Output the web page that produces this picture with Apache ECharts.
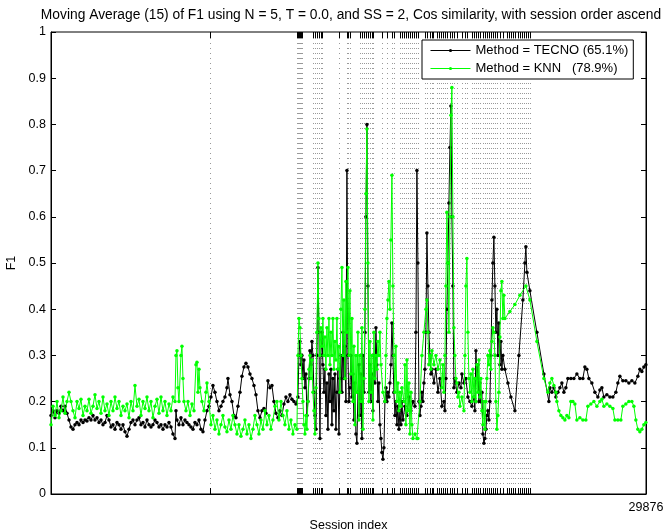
<!DOCTYPE html>
<html>
<head>
<meta charset="utf-8">
<script src="https://cdn.jsdelivr.net/npm/echarts@6/dist/echarts.min.js"></script>
<style>html,body{margin:0;padding:0;background:#fff}#c{width:663px;height:529px}</style>
</head>
<body>
<div id="c"></div>
<script>
const titleText = 'Moving Average (15) of F1 using N = 5, T = 0.0, and SS = 2, Cos similarity, with session order ascend';
const xMax = 29876;
const seriesNames = ['Method = TECNO (65.1%)', 'Method = KNN   (78.9%)'];

// session boundaries drawn as dotted grid lines
const gridSessions = [7982,12349,12399,12450,12500,12550,12600,13152,13253,13353,13454,13554,13604,14458,14859,14909,15010,
15512,15612,15713,15813,15913,16014,16114,16164,16616,16867,17118,17219,17520,17620,17721,17821,17921,18022,18122,18223,18323,18423,
18775,18875,19026,19126,19176,19377,19478,19578,19678,19779,19879,20030,20130,20231,20381,20632,20783,20883,21134,21235,21335,21435,
21536,21686,21787,21887,21988,22088,22188,22289,22389,22540,22690,22891,22992,23092,23192,23293,23443,23544,23644,23745,23845,23945,24046];

// [session index, F1] TECNO
const tecnoPoints = [[0,0.17],[100,0.18],[201,0.165],[301,0.18],[402,0.175],[502,0.19],[602,0.18],[703,0.19],[803,0.175],[904,0.16],
[1004,0.145],[1104,0.14],[1205,0.15],[1305,0.155],[1406,0.15],[1506,0.16],[1606,0.155],[1707,0.16],[1807,0.158],[1908,0.165],
[2008,0.16],[2108,0.17],[2209,0.16],[2309,0.165],[2410,0.155],[2510,0.16],[2610,0.15],[2711,0.155],[2811,0.17],[2912,0.16],
[3012,0.145],[3112,0.15],[3213,0.14],[3313,0.155],[3414,0.15],[3514,0.14],[3614,0.15],[3715,0.135],[3815,0.125],[3916,0.14],
[4016,0.155],[4116,0.16],[4217,0.15],[4317,0.16],[4418,0.165],[4518,0.15],[4618,0.155],[4719,0.145],[4819,0.16],[4920,0.15],
[5020,0.145],[5120,0.15],[5221,0.16],[5321,0.155],[5422,0.145],[5522,0.15],[5622,0.14],[5723,0.15],[5823,0.145],[5924,0.155],
[6024,0.145],[6124,0.13],[6225,0.12],[6275,0.18],[6325,0.16],[6426,0.15],[6526,0.165],[6626,0.15],[6727,0.16],[6827,0.155],
[6928,0.15],[7028,0.145],[7128,0.14],[7229,0.155],[7329,0.15],[7430,0.16],[7530,0.14],[7630,0.135],[7731,0.16],[7831,0.18],
[7932,0.19],[8032,0.21],[8132,0.235],[8233,0.22],[8333,0.2],[8434,0.18],[8534,0.19],[8634,0.2],[8735,0.21],[8835,0.23],
[8885,0.25],[8986,0.215],[9086,0.2],[9187,0.17],[9287,0.165],[9387,0.19],[9488,0.22],[9588,0.255],[9689,0.275],[9789,0.283],
[9889,0.275],[9990,0.26],[10090,0.25],[10191,0.235],[10291,0.215],[10391,0.18],[10492,0.165],[10592,0.18],[10693,0.185],[10793,0.175],
[10893,0.245],[10994,0.23],[11094,0.235],[11195,0.2],[11295,0.175],[11395,0.165],[11496,0.18],[11596,0.17],[11697,0.195],[11797,0.21],
[11897,0.2],[11998,0.215],[12098,0.205],[12199,0.2],[12299,0.195],
[12399,0.21],[12450,0.30],[12500,0.33],[12550,0.28],[12600,0.30],[12650,0.25],[12701,0.29],[12751,0.23],[12801,0.26],[12851,0.17],
[12901,0.2],[12952,0.25],[13002,0.31],[13052,0.28],[13102,0.33],[13152,0.3],[13203,0.22],[13253,0.17],[13303,0.14],[13353,0.3],
[13403,0.49],[13454,0.35],[13504,0.12],[13554,0.3],[13604,0.35],[13654,0.28],[13705,0.22],[13755,0.27],[13805,0.17],[13855,0.24],
[13905,0.14],[13956,0.26],[14006,0.2],[14056,0.27],[14106,0.15],[14156,0.25],[14207,0.18],[14257,0.26],[14307,0.14],[14357,0.22],
[14407,0.27],[14458,0.13],[14508,0.25],[14558,0.3],[14608,0.22],[14658,0.35],[14709,0.25],[14759,0.32],[14809,0.2],[14859,0.70],
[14909,0.3],[14960,0.2],[15010,0.23],[15060,0.3],[15110,0.21],[15160,0.26],[15211,0.16],[15261,0.24],[15311,0.13],[15361,0.11],
[15411,0.22],[15462,0.28],[15512,0.17],[15562,0.26],[15612,0.12],[15662,0.3],[15713,0.22],[15763,0.35],[15813,0.6],[15863,0.80],
[15913,0.45],[15964,0.22],[16014,0.28],[16064,0.2],[16114,0.26],[16164,0.18],[16215,0.3],[16265,0.24],[16315,0.36],[16365,0.28],
[16415,0.2],[16466,0.24],[16516,0.15],[16566,0.12],[16616,0.09],[16666,0.075],[16717,0.1],[16767,0.2],[16817,0.23],[16867,0.2],
[16917,0.22],[16968,0.21],[17018,0.24],[17068,0.28],[17118,0.37],[17168,0.3],[17219,0.22],[17269,0.17],[17319,0.2],[17369,0.15],
[17419,0.19],[17470,0.14],[17520,0.18],[17570,0.15],[17620,0.2],[17670,0.16],[17771,0.19],[17871,0.17],[17972,0.21],[18072,0.18],
[18172,0.2],[18273,0.19],[18323,0.35],[18373,0.70],[18423,0.5],[18474,0.2],[18524,0.17],[18574,0.19],[18624,0.22],[18674,0.2],
[18725,0.24],[18775,0.27],[18825,0.35],[18875,0.565],[18925,0.45],[18976,0.35],[19026,0.3],[19076,0.26],[19126,0.27],[19227,0.24],
[19327,0.27],[19427,0.22],[19528,0.25],[19628,0.19],[19729,0.2],[19779,0.18],[19829,0.25],[19879,0.4],[19929,0.5],[19980,0.63],
[20030,0.75],[20080,0.84],[20130,0.6],[20180,0.45],[20231,0.23],[20281,0.25],[20381,0.22],[20482,0.24],[20582,0.23],[20632,0.26],
[20733,0.24],[20833,0.25],[20933,0.21],[21034,0.2],[21134,0.19],[21235,0.21],[21285,0.18],[21335,0.31],[21385,0.25],[21435,0.28],
[21486,0.2],[21536,0.24],[21586,0.2],[21636,0.22],[21686,0.13],[21737,0.11],[21787,0.12],[21837,0.14],[21887,0.17],[21937,0.18],
[21988,0.16],[22038,0.2],[22088,0.3],[22138,0.42],[22188,0.5],[22239,0.556],[22289,0.45],[22339,0.35],[22389,0.4],[22439,0.3],
[22490,0.37],[22540,0.28],[22590,0.33],[22640,0.27],[22690,0.3],[22791,0.27],[22941,0.24],[23092,0.21],[23293,0.18],[23494,0.3],
[23694,0.42],[23795,0.5],[23845,0.535],[23895,0.48],[24046,0.44],[24397,0.35],[24749,0.26],[25000,0.2],[25050,0.23],[25150,0.22],
[25251,0.23],[25351,0.21],[25451,0.22],[25552,0.23],[25652,0.24],[25753,0.22],[25853,0.23],[25953,0.25],[26104,0.25],[26255,0.25],
[26405,0.26],[26556,0.25],[26706,0.25],[26807,0.275],[26907,0.27],[27008,0.25],[27158,0.24],[27309,0.22],[27459,0.21],[27560,0.225],
[27660,0.23],[27761,0.21],[27911,0.215],[28062,0.21],[28212,0.21],[28363,0.22],[28463,0.24],[28564,0.255],[28714,0.245],[28865,0.245],
[29016,0.24],[29166,0.245],[29317,0.24],[29467,0.255],[29568,0.27],[29668,0.265],[29769,0.275],[29869,0.28]];

// [session index, F1] KNN
const knnPoints = [[0,0.15],[100,0.19],[201,0.17],[301,0.2],[402,0.165],[502,0.18],[602,0.21],[703,0.175],[803,0.2],[904,0.22],
[1004,0.2],[1104,0.18],[1205,0.165],[1305,0.2],[1406,0.185],[1506,0.205],[1606,0.17],[1707,0.19],[1807,0.18],[1908,0.205],
[2008,0.175],[2108,0.19],[2209,0.215],[2309,0.185],[2410,0.2],[2510,0.175],[2610,0.21],[2711,0.18],[2811,0.195],[2912,0.17],
[3012,0.2],[3112,0.18],[3213,0.21],[3313,0.185],[3414,0.2],[3514,0.17],[3614,0.19],[3715,0.18],[3815,0.195],[3916,0.165],
[4016,0.2],[4116,0.18],[4217,0.235],[4317,0.19],[4418,0.205],[4518,0.17],[4618,0.2],[4719,0.185],[4819,0.21],[4920,0.18],
[5020,0.2],[5120,0.165],[5221,0.19],[5321,0.205],[5422,0.175],[5522,0.21],[5622,0.18],[5723,0.2],[5823,0.17],[5924,0.195],
[6024,0.18],[6124,0.21],[6225,0.2],[6275,0.3],[6325,0.31],[6375,0.23],[6426,0.2],[6526,0.3],[6576,0.32],[6626,0.25],
[6677,0.2],[6777,0.18],[6877,0.2],[6978,0.17],[7078,0.195],[7179,0.18],[7279,0.28],[7329,0.285],[7379,0.22],[7430,0.27],
[7480,0.23],[7580,0.2],[7681,0.18],[7781,0.22],[7831,0.24],[7932,0.2],[8032,0.15],[8132,0.17],[8233,0.14],[8333,0.16],
[8434,0.13],[8534,0.15],[8634,0.17],[8735,0.145],[8835,0.135],[8936,0.16],[9036,0.14],[9136,0.17],[9237,0.15],[9337,0.13],
[9438,0.15],[9538,0.125],[9638,0.14],[9739,0.16],[9839,0.13],[9940,0.15],[10040,0.12],[10140,0.14],[10241,0.17],[10341,0.15],
[10442,0.13],[10542,0.16],[10642,0.14],[10743,0.18],[10843,0.15],[10944,0.17],[11044,0.14],[11144,0.16],[11245,0.19],[11345,0.2],
[11446,0.16],[11546,0.2],[11646,0.17],[11747,0.15],[11847,0.18],[11948,0.14],[12048,0.16],[12148,0.13],[12249,0.15],[12349,0.14],
[12399,0.3],[12450,0.38],[12500,0.36],[12550,0.3],[12600,0.25],[12650,0.2],[12701,0.15],[12751,0.13],[12801,0.17],[12851,0.14],
[12901,0.2],[12952,0.27],[13002,0.3],[13052,0.25],[13102,0.29],[13152,0.22],[13203,0.18],[13253,0.13],[13303,0.23],[13353,0.35],
[13403,0.5],[13454,0.38],[13504,0.3],[13554,0.36],[13604,0.32],[13654,0.38],[13705,0.3],[13755,0.34],[13805,0.27],[13855,0.36],
[13905,0.3],[13956,0.38],[14006,0.28],[14056,0.35],[14106,0.3],[14156,0.38],[14207,0.27],[14257,0.33],[14307,0.29],[14357,0.38],
[14407,0.27],[14458,0.32],[14508,0.22],[14558,0.4],[14608,0.49],[14658,0.3],[14709,0.42],[14759,0.25],[14809,0.46],[14859,0.35],
[14909,0.49],[14960,0.3],[15010,0.44],[15060,0.26],[15110,0.38],[15160,0.2],[15211,0.32],[15261,0.15],[15311,0.3],[15361,0.22],
[15411,0.35],[15462,0.16],[15512,0.3],[15562,0.2],[15612,0.36],[15662,0.14],[15713,0.25],[15763,0.4],[15813,0.65],[15863,0.79],
[15913,0.5],[15964,0.2],[16014,0.33],[16064,0.22],[16114,0.3],[16164,0.16],[16215,0.35],[16265,0.25],[16315,0.3],[16365,0.27],
[16415,0.33],[16466,0.3],[16516,0.35],[16566,0.28],[16666,0.22],[16767,0.2],[16817,0.3],[16867,0.38],[16917,0.42],[16968,0.46],
[17018,0.4],[17068,0.55],[17118,0.69],[17168,0.45],[17219,0.3],[17269,0.22],[17319,0.32],[17369,0.2],[17419,0.24],[17470,0.18],
[17520,0.22],[17570,0.19],[17620,0.23],[17721,0.2],[17771,0.28],[17821,0.15],[17871,0.29],[17921,0.18],[17972,0.24],[18022,0.13],
[18072,0.22],[18122,0.15],[18172,0.12],[18273,0.13],[18373,0.12],[18423,0.12],[18524,0.2],[18624,0.3],[18725,0.35],[18825,0.4],
[18875,0.42],[18925,0.35],[18976,0.28],[19026,0.3],[19076,0.27],[19126,0.31],[19227,0.28],[19327,0.3],[19427,0.27],[19528,0.29],
[19628,0.23],[19678,0.28],[19729,0.22],[19779,0.3],[19829,0.45],[19879,0.61],[19929,0.5],[19980,0.35],[20030,0.6],[20080,0.82],
[20130,0.88],[20180,0.6],[20231,0.36],[20281,0.3],[20331,0.25],[20381,0.24],[20432,0.21],[20482,0.22],[20532,0.19],[20632,0.21],
[20733,0.18],[20783,0.3],[20833,0.45],[20883,0.51],[20933,0.35],[20984,0.25],[21034,0.22],[21084,0.26],[21134,0.2],[21184,0.27],
[21235,0.21],[21285,0.25],[21335,0.2],[21385,0.28],[21435,0.22],[21486,0.29],[21536,0.21],[21586,0.25],[21636,0.18],[21686,0.15],
[21737,0.2],[21787,0.14],[21837,0.2],[21887,0.25],[21937,0.3],[21988,0.28],[22038,0.31],[22088,0.27],[22138,0.33],[22188,0.36],
[22239,0.35],[22289,0.3],[22339,0.2],[22389,0.14],[22439,0.17],[22490,0.22],[22540,0.34],[22590,0.44],[22640,0.46],[22690,0.38],
[22741,0.43],[22791,0.38],[23042,0.395],[23293,0.41],[23544,0.43],[23845,0.45],[24046,0.42],[24397,0.33],[24749,0.25],[24949,0.22],
[25050,0.24],[25150,0.25],[25251,0.235],[25351,0.22],[25401,0.2],[25502,0.18],[25602,0.17],[25702,0.165],[25803,0.16],[25903,0.17],
[26004,0.165],[26104,0.2],[26205,0.2],[26305,0.195],[26405,0.16],[26556,0.165],[26706,0.16],[26857,0.16],[26957,0.19],[27108,0.195],
[27259,0.2],[27409,0.19],[27560,0.2],[27660,0.205],[27761,0.19],[27911,0.195],[28062,0.19],[28212,0.185],[28313,0.16],[28463,0.16],
[28614,0.16],[28714,0.19],[28865,0.195],[29016,0.2],[29166,0.2],[29267,0.19],[29367,0.16],[29467,0.14],[29568,0.135],[29668,0.14],
[29769,0.15],[29869,0.155]];

const FONT = '"Liberation Sans", Arial, Helvetica, sans-serif';
const chart = echarts.init(document.getElementById('c'), null, {renderer: 'canvas'});

chart.setOption({
  animation: false,
  backgroundColor: '#fff',
  textStyle: {fontFamily: FONT, color: '#000'},
  title: {
    text: titleText, left: 346, top: 3, textAlign: 'center',
    textStyle: {fontFamily: FONT, fontSize: 13.8, fontWeight: 'normal', color: '#000'}
  },
  legend: {
    data: seriesNames, orient: 'vertical', left: 422, top: 40,
    padding: [3, 5, 3, 8], itemGap: 3, itemWidth: 40, itemHeight: 4,
    borderColor: '#000', borderWidth: 1, backgroundColor: '#fff',
    lineStyle: {width: 1},
    textStyle: {fontFamily: FONT, fontSize: 13, color: '#000', lineHeight: 15}
  },
  grid: {left: 51, right: 17, top: 32, bottom: 35, outerBoundsMode: 'none',
    show: true, borderColor: '#000', borderWidth: 1, backgroundColor: 'transparent'},
  xAxis: {
    type: 'value', min: 0, max: xMax, interval: xMax,
    name: 'Session index', nameLocation: 'middle', nameGap: 19,
    nameTextStyle: {fontFamily: FONT, fontSize: 12.5, color: '#000'},
    axisLine: {show: true, lineStyle: {color: '#000'}},
    axisTick: {show: false}, splitLine: {show: false},
    axisLabel: {fontFamily: FONT, fontSize: 12.5, color: '#000', margin: 7,
      formatter: v => (v === xMax ? String(xMax) : '')}
  },
  yAxis: [{
    type: 'value', min: 0, max: 1, interval: 0.1,
    name: 'F1', nameLocation: 'middle', nameGap: 31,
    nameTextStyle: {fontFamily: FONT, fontSize: 12.5, color: '#000'},
    axisLine: {show: true, lineStyle: {color: '#000'}},
    axisTick: {show: true, inside: true, length: 5, lineStyle: {color: '#000'}},
    splitLine: {show: false},
    axisLabel: {fontFamily: FONT, fontSize: 12.5, color: '#000', margin: 5}
  }, {
    type: 'value', min: 0, max: 1, interval: 0.1, position: 'right',
    axisLine: {show: true, lineStyle: {color: '#000'}},
    axisTick: {show: true, inside: true, length: 5, lineStyle: {color: '#000'}},
    splitLine: {show: false}, axisLabel: {show: false}
  }],
  series: [{
    type: 'custom', name: 'sessions', silent: true, z: 1,
    data: gridSessions.map(s => [s, 0]),
    renderItem: function (params, api) {
      const s = api.value(0);
      const b = api.coord([s, 0]);
      const t = api.coord([s, 1]);
      const x = Math.round(b[0]) + 0.5;
      return {type: 'group', children: [
        {type: 'line', shape: {x1: x, y1: b[1], x2: x, y2: t[1]}, style: {stroke: '#999', lineWidth: 1, lineDash: [1, 4]}},
        {type: 'line', shape: {x1: x, y1: b[1], x2: x, y2: b[1] - 6}, style: {stroke: '#000', lineWidth: 1}},
        {type: 'line', shape: {x1: x, y1: t[1], x2: x, y2: t[1] + 6}, style: {stroke: '#000', lineWidth: 1}}
      ]};
    }
  }, {
    type: 'line', name: seriesNames[0], data: tecnoPoints, z: 2,
    symbol: 'circle', symbolSize: 3.5, showSymbol: true, showAllSymbol: true,
    lineStyle: {color: '#000', width: 1}, itemStyle: {color: '#000'}
  }, {
    type: 'line', name: seriesNames[1], data: knnPoints, z: 3,
    symbol: 'circle', symbolSize: 3.5, showSymbol: true, showAllSymbol: true,
    lineStyle: {color: '#00ff00', width: 1}, itemStyle: {color: '#00ff00'}
  }]
});
</script>
</body>
</html>
